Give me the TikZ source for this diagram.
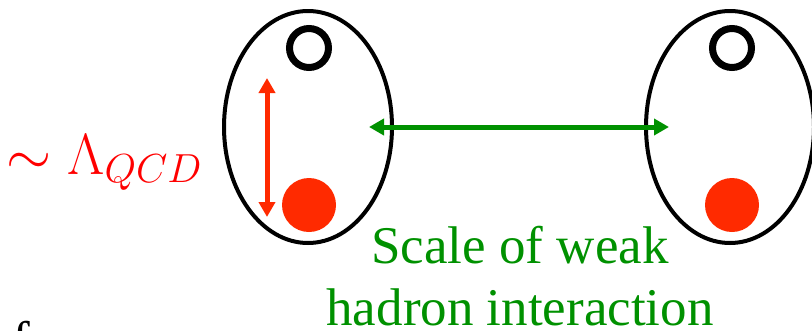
\RequirePackage{fix-cm}
\documentclass[tikz,border=0pt]{standalone}
\usepackage{fontspec}
\setmainfont{Liberation Serif}
\usepackage{tikz}
\usetikzlibrary{positioning,shapes.geometric,arrows.meta}

\definecolor{qred}{RGB}{255,42,0}
\definecolor{wgreen}{RGB}{0,145,0}

\begin{document}
\begin{tikzpicture}[x=1pt, y=-1pt,
	hadron/.style={draw, ellipse, line width=4pt, minimum width=168pt, minimum height=232pt, inner sep=0pt},
	ring/.style={draw, circle, line width=7pt, minimum size=39pt, inner sep=0pt},
	quark/.style={fill=qred, circle, minimum size=54pt, inner sep=0pt},
	dbl/.style={{Triangle[length=15pt, width=16pt]}-{Triangle[length=15pt, width=16pt]}, line width=5pt}]
	\useasboundingbox (0,0) rectangle (812,330);
	\node[hadron] (hL) at (308,127) {};
	\node[hadron] (hR) at (730,127) {};
	\node[ring] (rL) at (309,48) {};
	\node[ring] (rR) at (732,48) {};
	\node[quark] (qL) at (309,205) {};
	\node[quark] (qR) at (732,205) {};
	\coordinate (sT) at (267,78);
	\coordinate (sB) at (267,217);
	\draw[dbl, qred] (sT) -- (sB);
	\coordinate (wL) at (369,127);
	\coordinate (wR) at (669,127);
	\draw[dbl, wgreen] (wL) -- (wR);
	\node[red, anchor=base west, inner sep=0pt, font=\fontsize{58}{60}\selectfont] (lqcd) at (6,174) {$\sim \Lambda_{QCD}$};
	\node[wgreen, align=center, anchor=north, inner sep=0pt, font=\fontsize{53}{62}\selectfont] (wtxt) at (520,226) {Scale of weak\\hadron interaction};
	\node[anchor=base west, inner sep=0pt, font=\fontsize{53}{62}\selectfont] (frag) at (12,358) {f};
\end{tikzpicture}
\end{document}
